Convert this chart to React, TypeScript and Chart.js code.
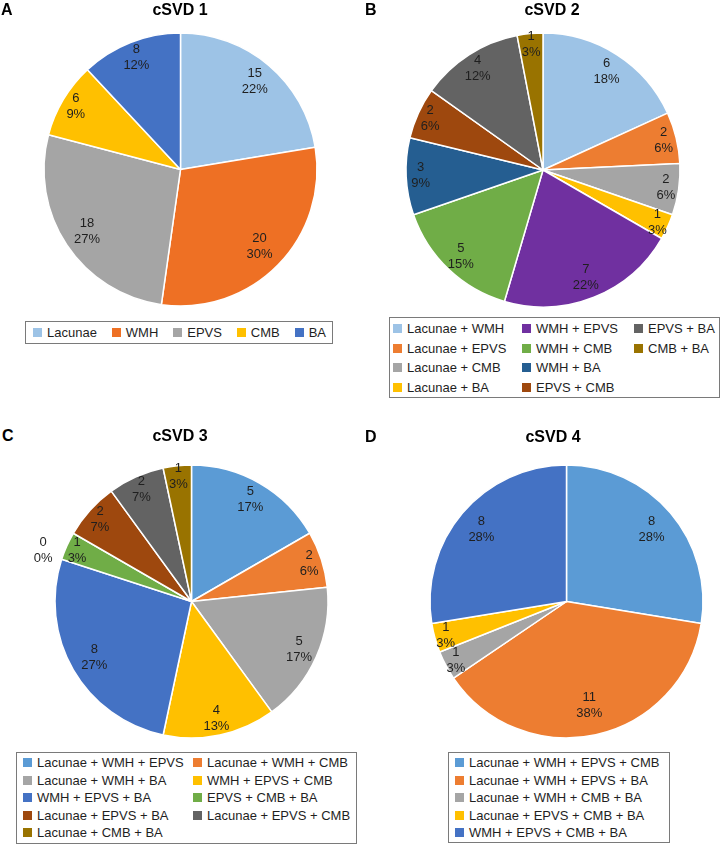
import React, { useEffect, useRef } from "react";
import { Chart, registerables } from "chart.js";

Chart.register(...registerables);

const FONT = '"Liberation Sans", Arial, Helvetica, sans-serif';
const TEXT = "#1f1f1f";

// ---- Panel A: cSVD 1 ----
const labels1 = ["Lacunae", "WMH", "EPVS", "CMB", "BA"];
const values1 = [15, 20, 18, 6, 8];
const pcts1 = ["22%", "30%", "27%", "9%", "12%"];
const colors1 = ["#9DC3E6", "#EE7024", "#A5A5A5", "#FFC000", "#4472C4"];

// ---- Panel B: cSVD 2 ----
const labels2 = [
  "Lacunae + WMH",
  "Lacunae + EPVS",
  "Lacunae + CMB",
  "Lacunae + BA",
  "WMH + EPVS",
  "WMH + CMB",
  "WMH + BA",
  "EPVS + CMB",
  "EPVS + BA",
  "CMB + BA",
];
const values2 = [6, 2, 2, 1, 7, 5, 3, 2, 4, 1];
const pcts2 = ["18%", "6%", "6%", "3%", "22%", "15%", "9%", "6%", "12%", "3%"];
const colors2 = [
  "#9DC3E6",
  "#ED7D31",
  "#A5A5A5",
  "#FFC000",
  "#7030A0",
  "#70AD47",
  "#255E91",
  "#9E480E",
  "#636363",
  "#997300",
];

// ---- Panel C: cSVD 3 ----
const labels3 = [
  "Lacunae + WMH + EPVS",
  "Lacunae + WMH + CMB",
  "Lacunae + WMH + BA",
  "WMH + EPVS + CMB",
  "WMH + EPVS + BA",
  "EPVS + CMB + BA",
  "WMH + CMB + BA",
  "Lacunae + EPVS + BA",
  "Lacunae + EPVS + CMB",
  "Lacunae + CMB + BA",
];
const values3 = [5, 2, 5, 4, 8, 1, 0, 2, 2, 1];
const pcts3 = ["17%", "6%", "17%", "13%", "27%", "3%", "0%", "7%", "7%", "3%"];
const colors3 = [
  "#5B9BD5",
  "#ED7D31",
  "#A5A5A5",
  "#FFC000",
  "#4472C4",
  "#70AD47",
  "#255E91",
  "#9E480E",
  "#636363",
  "#997300",
];
const legendHidden3 = ["WMH + CMB + BA"];

// ---- Panel D: cSVD 4 ----
const labels4 = [
  "Lacunae + WMH + EPVS + CMB",
  "Lacunae + WMH + EPVS + BA",
  "Lacunae + WMH + CMB + BA",
  "Lacunae + EPVS + CMB + BA",
  "WMH + EPVS + CMB + BA",
];
const values4 = [8, 11, 1, 1, 8];
const pcts4 = ["28%", "38%", "3%", "3%", "28%"];
const colors4 = ["#5B9BD5", "#ED7D31", "#A5A5A5", "#FFC000", "#4472C4"];

type PieProps = {
  labels: string[];
  values: number[];
  pcts: string[];
  colors: string[];
  cx: number;
  cy: number;
  r: number;
};

const BW = 1.5;
const M = 34;

function PieCanvas({ labels, values, pcts, colors, cx, cy, r }: PieProps) {
  const ref = useRef<HTMLCanvasElement | null>(null);
  useEffect(() => {
    if (!ref.current) return;
    const sliceLabels = {
      id: "sliceLabels",
      afterDatasetsDraw(chart: any) {
        const ctx = chart.ctx;
        const meta = chart.getDatasetMeta(0);
        const data = chart.data.datasets[0].data as number[];
        ctx.save();
        ctx.font = `13px ${FONT}`;
        ctx.fillStyle = TEXT;
        ctx.textAlign = "center";
        ctx.textBaseline = "middle";
        meta.data.forEach((arc: any, i: number) => {
          const p = arc.getProps(
            ["x", "y", "startAngle", "endAngle", "outerRadius"],
            true
          );
          const v = data[i];
          const pn = parseFloat(pcts[i]);
          let mid = (p.startAngle + p.endAngle) / 2;
          let d: number;
          if (v === 0) {
            d = p.outerRadius * 1.15;
            mid -= 0.19;
          } else {
            d = p.outerRadius * (0.93 - 0.004 * pn);
          }
          const lx = p.x + Math.cos(mid) * d;
          const ly = p.y + Math.sin(mid) * d;
          ctx.fillText(String(v), lx, ly - 8);
          ctx.fillText(pcts[i], lx, ly + 8);
        });
        ctx.restore();
      },
    };
    const chart = new Chart(ref.current, {
      type: "pie",
      data: {
        labels,
        datasets: [
          {
            data: values,
            backgroundColor: colors,
            borderColor: "#ffffff",
            borderWidth: BW,
          },
        ],
      },
      options: {
        animation: false,
        responsive: false,
        maintainAspectRatio: false,
        devicePixelRatio: 1,
        layout: {
          padding: {
            left: M - BW / 2,
            right: M - BW / 2,
            top: M - BW / 2,
            bottom: M - BW / 2,
          },
        },
        plugins: {
          legend: { display: false },
          tooltip: { enabled: false },
          title: { display: false },
        },
      },
      plugins: [sliceLabels],
    } as any);
    return () => chart.destroy();
  }, []);
  const size = 2 * r + 2 * M;
  return (
    <canvas
      ref={ref}
      width={size}
      height={size}
      style={{
        position: "absolute",
        left: cx - r - M,
        top: cy - r - M,
        width: size,
        height: size,
      }}
    />
  );
}

type LegendProps = {
  labels: string[];
  colors: string[];
  hidden?: string[];
  style: React.CSSProperties;
  mode: "row" | "grid";
  gridStyle?: React.CSSProperties;
};

function Legend({ labels, colors, hidden, style, mode, gridStyle }: LegendProps) {
  const items = labels
    .map((l, i) => ({ l, c: colors[i] }))
    .filter((it) => !(hidden || []).includes(it.l));
  const base: React.CSSProperties = {
    position: "absolute",
    boxSizing: "border-box",
    border: "1px solid #7a7a7a",
    background: "#fff",
    fontFamily: FONT,
    fontSize: 13,
    color: TEXT,
    ...style,
  };
  const inner: React.CSSProperties =
    mode === "row"
      ? {
          display: "flex",
          justifyContent: "space-between",
          alignItems: "center",
          height: "100%",
        }
      : { display: "grid", ...gridStyle };
  return (
    <div style={base}>
      <div style={inner}>
        {items.map((it) => (
          <div
            key={it.l}
            style={{ display: "flex", alignItems: "center", whiteSpace: "nowrap" }}
          >
            <span
              style={{
                display: "inline-block",
                width: 9,
                height: 9,
                background: it.c,
                marginRight: 5,
                flex: "none",
              }}
            />
            <span>{it.l}</span>
          </div>
        ))}
      </div>
    </div>
  );
}

function TextAt({
  x,
  cy,
  text,
  center,
}: {
  x: number;
  cy: number;
  text: string;
  center?: boolean;
}) {
  return (
    <div
      style={{
        position: "absolute",
        left: center ? x - 100 : x,
        width: center ? 200 : undefined,
        top: cy - 9.75,
        height: 20,
        lineHeight: "20px",
        fontFamily: FONT,
        fontSize: 16,
        fontWeight: "bold",
        color: "#000",
        textAlign: center ? "center" : "left",
        whiteSpace: "nowrap",
        zIndex: 2,
      }}
    >
      {text}
    </div>
  );
}

export default function App() {
  return (
    <div
      style={{
        position: "absolute",
        left: 0,
        top: 0,
        width: 720,
        height: 846,
        background: "#fff",
        overflow: "hidden",
        fontFamily: FONT,
      }}
    >
      {/* Panel A */}
      <TextAt x={1} cy={9.5} text="A" />
      <TextAt x={180} cy={9.5} text="cSVD 1" center />
      <PieCanvas
        labels={labels1}
        values={values1}
        pcts={pcts1}
        colors={colors1}
        cx={180}
        cy={169}
        r={136.5}
      />
      <Legend
        labels={labels1}
        colors={colors1}
        mode="row"
        style={{ left: 25, top: 321, width: 308, height: 23, padding: "0 6px 0 7px" }}
      />

      {/* Panel B */}
      <TextAt x={365} cy={9.5} text="B" />
      <TextAt x={552} cy={9.5} text="cSVD 2" center />
      <PieCanvas
        labels={labels2}
        values={values2}
        pcts={pcts2}
        colors={colors2}
        cx={542.5}
        cy={170}
        r={137}
      />
      <Legend
        labels={labels2}
        colors={colors2}
        mode="grid"
        style={{ left: 389, top: 317, width: 331, height: 81, padding: "1px 0 0 3px" }}
        gridStyle={{
          gridTemplateColumns: "129px 112px auto",
          gridTemplateRows: "repeat(4, 19.5px)",
          gridAutoFlow: "column",
        }}
      />

      {/* Panel C */}
      <TextAt x={2} cy={436} text="C" />
      <TextAt x={180} cy={436} text="cSVD 3" center />
      <PieCanvas
        labels={labels3}
        values={values3}
        pcts={pcts3}
        colors={colors3}
        cx={191.5}
        cy={601.5}
        r={136.5}
      />
      <Legend
        labels={labels3}
        colors={colors3}
        hidden={legendHidden3}
        mode="grid"
        style={{ left: 16, top: 752, width: 341, height: 92, padding: "1px 0 0 6px" }}
        gridStyle={{
          gridTemplateColumns: "170px auto",
          gridAutoRows: "17.5px",
        }}
      />

      {/* Panel D */}
      <TextAt x={365} cy={437} text="D" />
      <TextAt x={553} cy={437} text="cSVD 4" center />
      <PieCanvas
        labels={labels4}
        values={values4}
        pcts={pcts4}
        colors={colors4}
        cx={566.5}
        cy={601.5}
        r={136.5}
      />
      <Legend
        labels={labels4}
        colors={colors4}
        mode="grid"
        style={{ left: 448, top: 752, width: 222, height: 91, padding: "1px 0 0 6px" }}
        gridStyle={{
          gridTemplateColumns: "auto",
          gridAutoRows: "17.5px",
        }}
      />
    </div>
  );
}
